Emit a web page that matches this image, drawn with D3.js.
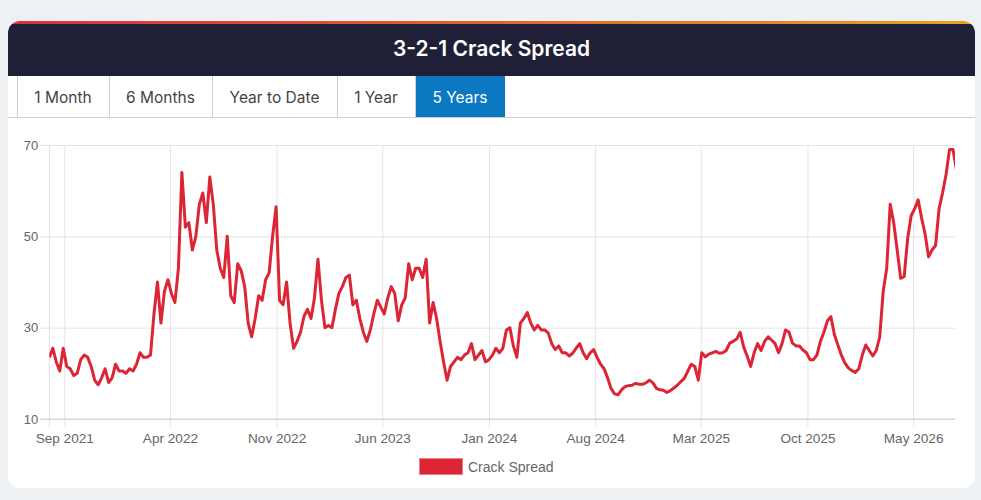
<!DOCTYPE html>
<html><head><meta charset="utf-8">
<script src="https://cdn.jsdelivr.net/npm/d3@7"></script>
<style>
html,body{margin:0;padding:0;background:#eef1f4;overflow:hidden;}
svg{display:block}
</style></head><body>
<svg id="c" width="981" height="500"></svg>
<script>
// ---- data ----
const title = "3-2-1 Crack Spread";
const tabs = ["1 Month", "6 Months", "Year to Date", "1 Year", "5 Years"];
const activeTab = "5 Years";
const seriesName = "Crack Spread";
const startDate = "2021-08-02";   // first weekly observation
const endDate = "2026-07-24";     // end of the plotted range
const stepDays = 7;               // weekly observations
const values = [
  23.5, 25.5, 22.5, 20.5, 25.5, 21.5, 21, 19.5, 20, 23,
  24, 23.5, 21.5, 18.5, 17.5, 19, 21, 18, 19, 22,
  20.5, 20.5, 20, 21, 20.5, 22, 24.5, 23.5, 23.5, 24,
  33, 40, 31, 38, 40.5, 37.5, 35.5, 43, 64, 52,
  53, 47, 50, 57, 59.5, 53, 63, 57, 47, 43,
  41, 50, 37, 35.5, 44, 42.5, 39, 31, 28, 32,
  37, 36, 40.5, 42, 50, 56.5, 36, 35, 40, 31,
  25.5, 27, 29, 32.5, 34, 32, 36.5, 45, 36, 30,
  30.5, 30, 34, 37.5, 39, 41, 41.5, 35, 36, 32,
  29, 27, 29.5, 33, 36, 34.5, 33, 36.5, 39, 37.5,
  31.5, 35, 36.5, 44, 40.5, 43, 43, 41, 45, 31,
  35.5, 32, 27, 22.5, 18.5, 21.5, 22.5, 23.5, 23, 24,
  24.5, 26.5, 23, 24, 25, 22.5, 23, 24, 25.5, 24.5,
  25.5, 29.5, 30, 26, 23.5, 31, 32, 33.3, 31, 29.5,
  30.5, 29.5, 29.5, 28.8, 26.5, 25.2, 26, 24.5, 24.5, 23.8,
  24.4, 25.5, 26.5, 24.5, 23.2, 24.5, 25.2, 23.5, 22, 21,
  19, 16.7, 15.5, 15.3, 16.4, 17.1, 17.3, 17.4, 17.8, 17.6,
  17.6, 17.9, 18.5, 17.9, 16.7, 16.4, 16.3, 15.8, 16.2, 16.8,
  17.4, 18.2, 18.9, 20.5, 22, 21.5, 18.5, 24.5, 23.6, 24.2,
  24.5, 24.8, 24.4, 24.5, 25, 26.6, 27, 27.5, 29, 25.8,
  23.8, 21.5, 24.5, 26.5, 25, 27, 28, 27.3, 26.5, 24.5,
  26.5, 29.5, 29, 26.6, 26, 26, 25.1, 24.5, 23, 23,
  24, 27, 29, 31.5, 32.4, 28.5, 26.2, 24, 22.3, 21.2,
  20.6, 20.2, 21, 24, 26.2, 25, 23.8, 25, 28, 38,
  43, 57, 53, 47, 40.8, 41.2, 49.5, 54.5, 56, 58,
  54, 50.5, 45.5, 47, 48, 56, 59.5, 63.5, 69, 69,
  64.5
];
const yTicks = [10, 30, 50, 70];
const xTickDates = ["2021-09-01", "2022-04-01", "2022-11-01", "2023-06-01", "2024-01-01",
                    "2024-08-01", "2025-03-01", "2025-10-01", "2026-05-01"];

// ---- build ----
const parse = d3.timeParse("%Y-%m-%d");
const t0 = parse(startDate);
const series = values.map((v, i) => ({ date: d3.timeDay.offset(t0, i * stepDays), value: v }));

const svg = d3.select("#c");
const card = { x: 8, y: 21, w: 967, h: 467, r: 12 };
const defs = svg.append("defs");
defs.append("clipPath").attr("id", "cardClip")
  .append("rect").attr("x", card.x).attr("y", card.y).attr("width", card.w).attr("height", card.h).attr("rx", card.r);
const grad = defs.append("linearGradient").attr("id", "topGrad").attr("x1", "0%").attr("x2", "100%");
grad.append("stop").attr("offset", "0%").attr("stop-color", "#dc2f3c");
grad.append("stop").attr("offset", "50%").attr("stop-color", "#e0622e");
grad.append("stop").attr("offset", "100%").attr("stop-color", "#e9a321");

const g = svg.append("g").attr("clip-path", "url(#cardClip)");
g.append("rect").attr("x", card.x).attr("y", card.y).attr("width", card.w).attr("height", card.h).attr("fill", "#fff");
g.append("rect").attr("x", card.x).attr("y", 21).attr("width", card.w).attr("height", 3).attr("fill", "url(#topGrad)");
g.append("rect").attr("x", card.x).attr("y", 24).attr("width", card.w).attr("height", 52).attr("fill", "#1f1f38");
g.append("text").attr("x", 491.5).attr("y", 56).attr("text-anchor", "middle")
  .attr("font-family", "Inter, 'Noto Sans', sans-serif").attr("font-size", 21).attr("font-weight", 600)
  .attr("fill", "#ffffff").text(title);

// tabs
const tabEdges = [17, 109, 212, 337, 415, 505];
const tabTop = 76, tabBottom = 117;
tabs.forEach((t, i) => {
  const x0 = tabEdges[i], x1 = tabEdges[i + 1];
  const active = t === activeTab;
  if (active) g.append("rect").attr("x", x0).attr("y", tabTop).attr("width", x1 - x0).attr("height", tabBottom - tabTop).attr("fill", "#0a79c2");
  g.append("text").attr("x", (x0 + x1) / 2).attr("y", 103).attr("text-anchor", "middle")
    .attr("font-family", "Inter, 'Noto Sans', sans-serif").attr("font-size", 15.5)
    .attr("fill", active ? "#ffffff" : "#444").text(t);
});
tabEdges.slice(0, 5).forEach(x => {
  g.append("line").attr("x1", x + 0.5).attr("x2", x + 0.5).attr("y1", tabTop).attr("y2", tabBottom)
    .attr("stroke", "#cfcfcf");
});
g.append("line").attr("x1", card.x).attr("x2", card.x + card.w).attr("y1", tabBottom + 0.5).attr("y2", tabBottom + 0.5)
  .attr("stroke", "#cfcfcf");

// chart
const plot = { left: 49.3, right: 955, top: 145, bottom: 419 };
const x = d3.scaleTime().domain([t0, parse(endDate)]).range([plot.left, plot.right]);
const y = d3.scaleLinear().domain([10, 70]).range([plot.bottom, plot.top]);
const axisFont = "'Liberation Sans', Arial, sans-serif";

const yAxis = d3.axisLeft(y).tickValues(yTicks).tickSize(-(plot.right - plot.left)).tickPadding(11).tickFormat(d3.format("d"));
const yG = g.append("g").attr("transform", `translate(${plot.left},0)`).call(yAxis);
yG.select(".domain").remove();
yG.selectAll(".tick line").attr("stroke", "#e4e4e4").attr("x1", -9);
yG.selectAll(".tick text").attr("font-family", axisFont).attr("font-size", 13).attr("fill", "#666");

const tickDates = xTickDates.map(parse);
const xAxis = d3.axisBottom(x).tickValues(tickDates).tickSize(-(plot.bottom - plot.top)).tickPadding(14).tickFormat(d3.timeFormat("%b %Y"));
const xG = g.append("g").attr("transform", `translate(0,${plot.bottom})`).call(xAxis);
xG.select(".domain").remove();
xG.selectAll(".tick line").attr("stroke", "#e4e4e4").attr("y1", 8);
xG.selectAll(".tick text").attr("font-family", axisFont).attr("font-size", 13.6).attr("fill", "#666");

// axis lines
g.append("line").attr("x1", plot.left).attr("x2", plot.left).attr("y1", plot.top).attr("y2", plot.bottom + 8).attr("stroke", "#e0e0e0");
g.append("line").attr("x1", plot.left - 9).attr("x2", plot.right).attr("y1", plot.bottom).attr("y2", plot.bottom).attr("stroke", "#cfcfcf");

defs.append("clipPath").attr("id", "plotClip").append("rect")
  .attr("x", plot.left).attr("y", plot.top - 5).attr("width", plot.right - plot.left).attr("height", plot.bottom - plot.top + 10);

const line = d3.line().x(d => x(d.date)).y(d => y(d.value));
g.append("path").datum(series).attr("clip-path", "url(#plotClip)")
  .attr("d", line).attr("fill", "none").attr("stroke", "#dc2535").attr("stroke-width", 3)
  .attr("stroke-linejoin", "round");

// legend
const lg = g.append("g");
lg.append("rect").attr("x", 419.5).attr("y", 458.5).attr("width", 43).attr("height", 16)
  .attr("fill", "#dc2535").attr("stroke", "#ec7f8a").attr("stroke-width", 1);
lg.append("text").attr("x", 468).attr("y", 471.5).attr("font-family", axisFont).attr("font-size", 14)
  .attr("fill", "#666").text(seriesName);
</script>
</body></html>
